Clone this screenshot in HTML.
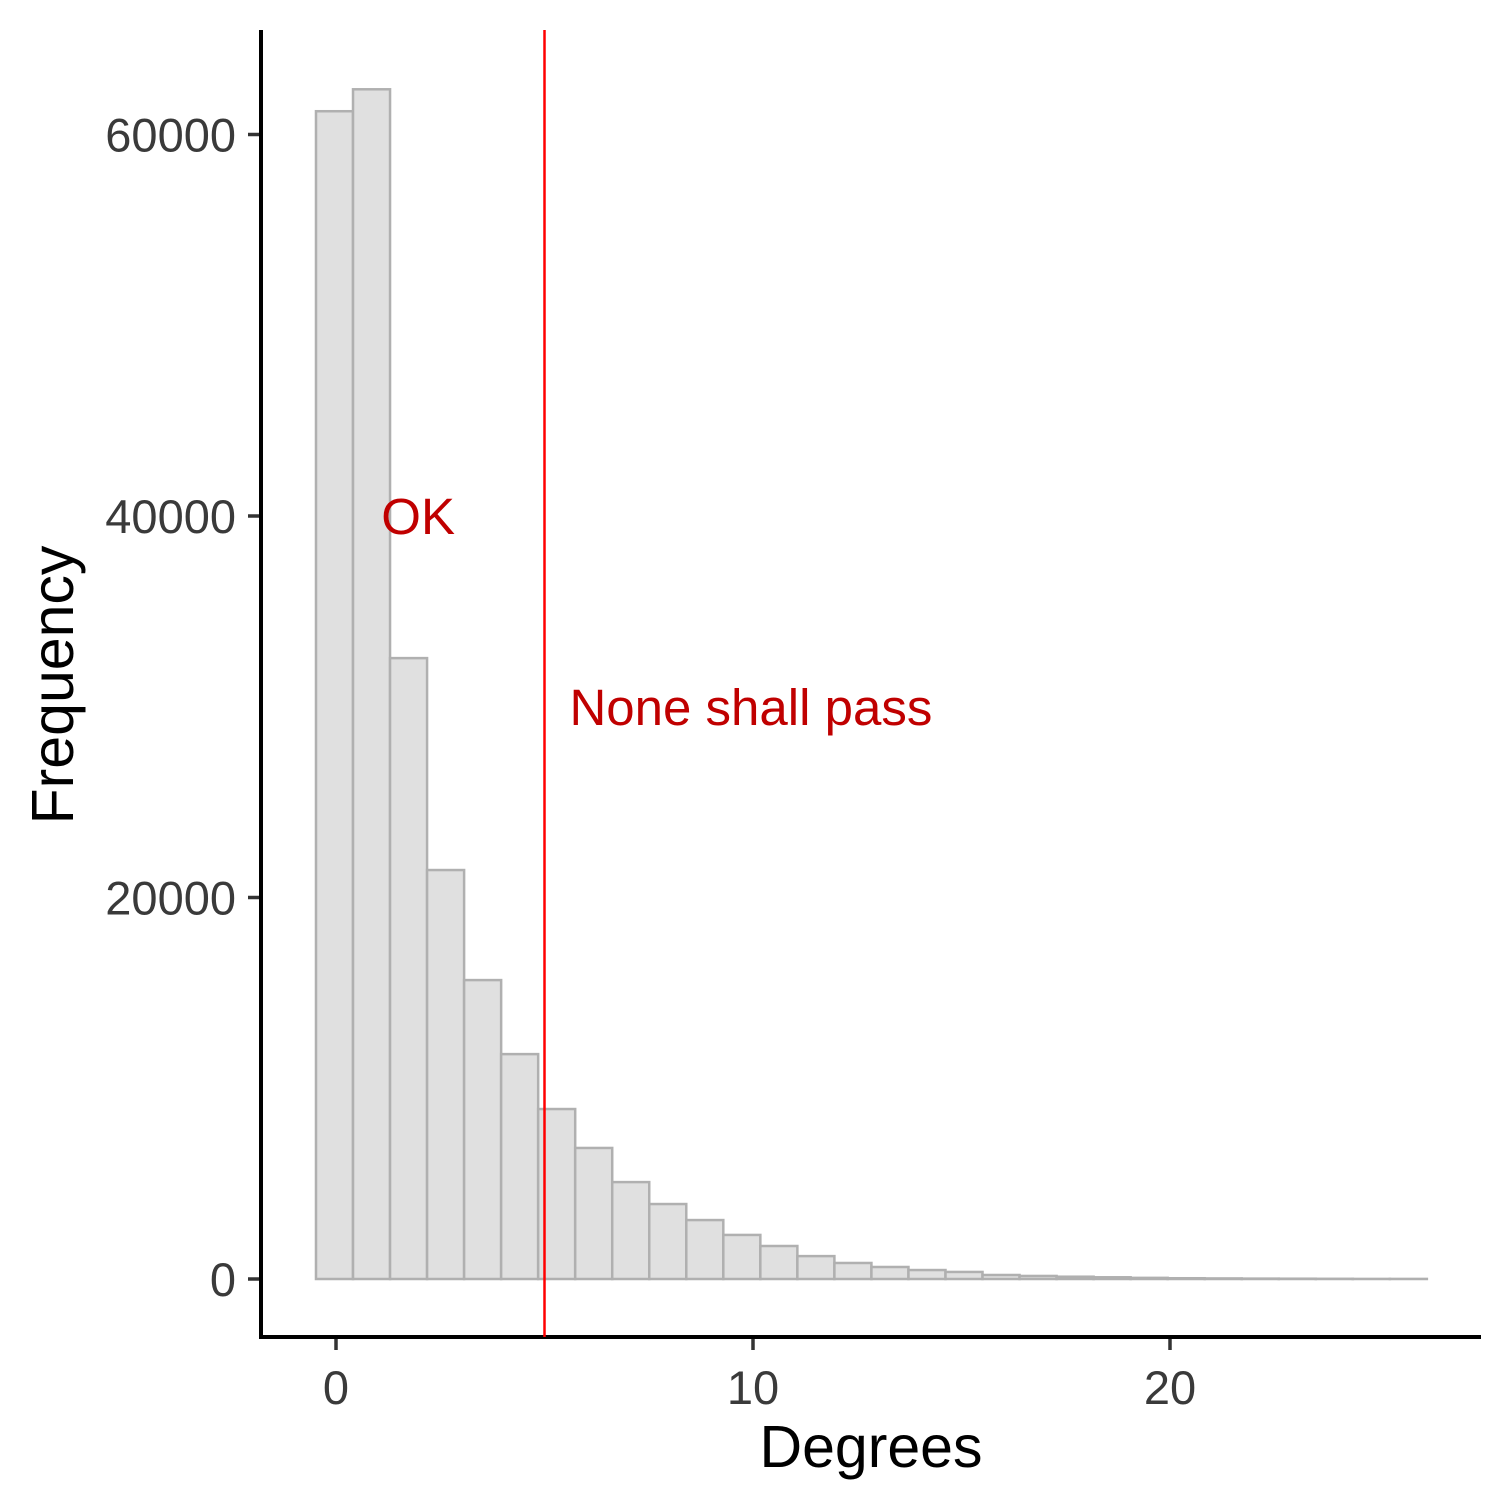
<!DOCTYPE html>
<html><head><meta charset="utf-8"><style>
html,body{margin:0;padding:0;background:#fff}
svg{display:block;font-family:"Liberation Sans",Arial,sans-serif}
</style></head><body>
<svg id="chart" width="1512" height="1512" viewBox="0 0 1512 1512">
<g id="bars"></g>
<g id="ticks"></g>
<line x1="261" y1="30" x2="261" y2="1339" stroke="#000" stroke-width="4"/>
<line x1="259" y1="1337" x2="1481" y2="1337" stroke="#000" stroke-width="4"/>
<text x="871" y="1467" font-size="59" text-anchor="middle" fill="#000">Degrees</text>
<text transform="translate(73,685) rotate(-90)" font-size="59" text-anchor="middle" fill="#000">Frequency</text>
</svg>
<script>
const binStart = -0.48;
const binWidth = 0.888;
const counts = [61220,62370,32550,21440,15670,11790,8910,6870,5080,3930,3090,2310,1730,1200,840,630,470,370,210,160,120,90,60,40,30,20,15,10,5,5];
const xTicks = [0,10,20];
const yTicks = [0,20000,40000,60000];
const cutoff = 5;
const labels = ["OK","None shall pass"];
const labelX = [1.97,9.95];
const labelY = [40000,30000];

const xs = v => 336 + (v - 0) * 41.7;
const ys = v => 1279 - v * 0.019075;
const NS = "http://www.w3.org/2000/svg";
const svg = document.getElementById('chart');
const bars = document.getElementById('bars');
const ticks = document.getElementById('ticks');
function mk(t, a, p){const e=document.createElementNS(NS,t);for(const k in a)e.setAttribute(k,a[k]);(p||svg).appendChild(e);return e;}

counts.forEach((c,i)=>{
  const x0 = xs(binStart + i*binWidth), x1 = xs(binStart + (i+1)*binWidth);
  const r = mk('rect',{x:x0,y:ys(c),width:x1-x0,height:ys(0)-ys(c),fill:'#e0e0e0',stroke:'#b0b0b0','stroke-width':2.5},bars);
  
  
});
xTicks.forEach(v=>{
  const l = mk('line',{x1:xs(v),x2:xs(v),y1:1338,y2:1350,stroke:'#333','stroke-width':3.5},ticks);
  
  
  const t = mk('text',{x:xs(v),y:1404,'font-size':47,'text-anchor':'middle',fill:'#3a3a3a'},ticks);
  t.textContent = v;
  
  
});
yTicks.forEach(v=>{
  const l = mk('line',{x1:248,x2:261,y1:ys(v),y2:ys(v),stroke:'#333','stroke-width':3.5},ticks);
  
  
  const t = mk('text',{x:236,y:ys(v)+17,'font-size':47,'text-anchor':'end',fill:'#3a3a3a'},ticks);
  t.textContent = v;
  
  
});
const vl = mk('line',{x1:xs(cutoff),x2:xs(cutoff),y1:30,y2:1337,stroke:'#ff0000','stroke-width':2.5});


labels.forEach((s,i)=>{
  const t = mk('text',{x:xs(labelX[i]),y:ys(labelY[i])+18,'font-size':51,'text-anchor':'middle',fill:'#c00000'});
  t.textContent = s;
  
  
});
</script>
</body></html>
